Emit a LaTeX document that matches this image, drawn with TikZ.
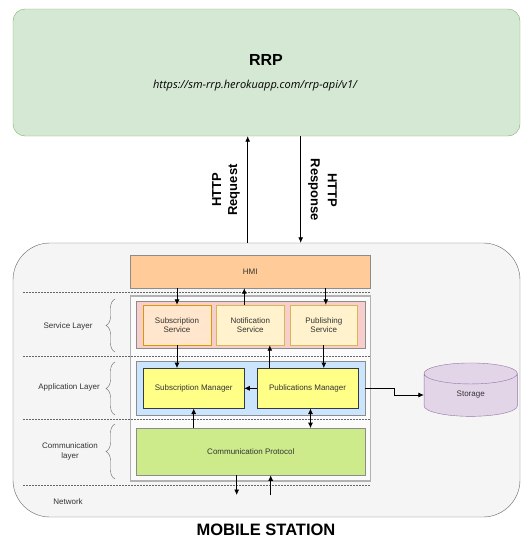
\documentclass[tikz,border=0pt]{standalone}
\usepackage{fontspec}
\setmainfont{Liberation Sans}
\newfontfamily\urlfont{Open Sans}
\usepackage{tikz}
\usetikzlibrary{positioning}
\usetikzlibrary{arrows.meta,shapes.geometric,decorations.pathreplacing}

\definecolor{rrpfill}{HTML}{D5E8D4}
\definecolor{rrpline}{HTML}{82B366}
\definecolor{msfill}{HTML}{F5F5F5}
\definecolor{msline}{HTML}{666666}
\definecolor{hmifill}{HTML}{FFCC99}
\definecolor{boxline}{HTML}{8C8C8C}
\definecolor{srvfill}{HTML}{F8CECC}
\definecolor{subfill}{HTML}{FFE6CC}
\definecolor{subline}{HTML}{D79B00}
\definecolor{pubfill}{HTML}{FFF2CC}
\definecolor{publine}{HTML}{D6B656}
\definecolor{appfill}{HTML}{CCE5FF}
\definecolor{mgrfill}{HTML}{FFFF88}
\definecolor{mgrline}{HTML}{36393D}
\definecolor{comfill}{HTML}{CDEB8B}
\definecolor{stofill}{HTML}{E1D5E7}
\definecolor{stoline}{HTML}{9673A6}
\definecolor{txt}{HTML}{333333}

\begin{document}
\begin{tikzpicture}[x=1pt,y=-1pt,
	box/.style={draw,inner sep=0pt,align=center,text=txt,font=\fontsize{8}{9.5}\selectfont},
	arr/.style={-{Latex[length=5.5pt,width=5pt]},line width=0.8pt},
	layerline/.style={draw=msline,dash pattern=on 1.5pt off 1.5pt,line width=0.6pt},
	layerbrace/.style={draw=msline,decorate,decoration={brace,amplitude=9pt}},
	layertext/.style={text=txt,align=center,font=\fontsize{8}{9.5}\selectfont}]
	\useasboundingbox (0,0) rectangle (521,541);
	% remote server
	\node (rrp) [draw=rrpline,fill=rrpfill,rounded corners=12pt,minimum width=507,minimum height=127] at (266.5,72.5) {};
	\node (rrptitle) at (266,60) {\fontsize{16}{18}\selectfont\bfseries RRP};
	\node (rrpurl) at (255,86) {\urlfont\itshape\fontsize{11}{12}\selectfont https://sm-rrp.herokuapp.com/rrp-api/v1/};
	% mobile station
	\node (ms) [draw=msline,fill=msfill,rounded corners=37pt,minimum width=507,minimum height=274] at (266.5,380) {};
	\node (mstitle) at (266,530) {\fontsize{16.5}{18}\selectfont\bfseries MOBILE STATION};
	\node (frame) [draw=black!30,fill=white!60!msfill,line width=1.2pt,minimum width=240,minimum height=185] at (250.3,388.5) {};
	\foreach \y in {292.5,356.5,419,485.5}
		\draw [layerline] (23,\y) -- (370,\y);
	\node (hmi) [box,draw=boxline,fill=hmifill,minimum width=240.7,minimum height=33] at (250.3,271.5) {HMI};
	% service layer
	\node (srv) [box,draw=boxline,fill=srvfill,minimum width=228.3,minimum height=46.3] at (250.8,324.8) {};
	\node (subsvc) [box,draw=subline,fill=subfill,minimum width=67.4,minimum height=40] at (177,325) {Subscription\\Service};
	\node (notsvc) [box,draw=publine,fill=pubfill,minimum width=67.4,minimum height=40] at (250.3,325) {Notification\\Service};
	\node (pubsvc) [box,draw=publine,fill=pubfill,minimum width=67.4,minimum height=40] at (323.8,325) {Publishing\\Service};
	% application layer
	\node (app) [box,draw=boxline,fill=appfill,minimum width=228.3,minimum height=53.3] at (250.8,388.3) {};
	\node (submgr) [box,draw=mgrline,fill=mgrfill,minimum width=100.7,minimum height=40] at (193.7,388.3) {Subscription Manager};
	\node (pubmgr) [box,draw=mgrline,fill=mgrfill,minimum width=100.4,minimum height=40] at (307.5,388.3) {Publications Manager};
	% communication layer
	\node (com) [box,draw=boxline,fill=comfill,minimum width=228.3,minimum height=46.7] at (250.8,451.7) {Communication Protocol};
	\node (sto) [box,draw=stoline,fill=stofill,cylinder,shape border rotate=90,aspect=0.75,minimum width=93.3,minimum height=53.4] at (470.7,395) {Storage};
	% layer names
	\draw [layerbrace] (115,352) -- (115,299);
	\draw [layerbrace] (115,415) -- (115,362);
	\draw [layerbrace] (115,479) -- (115,424);
	\node (srvname) [layertext] at (68,326) {Service Layer};
	\node (appname) [layertext] at (69,387.5) {Application Layer};
	\node (comname) [layertext] at (70,451.5) {Communication\\layer};
	\node (netname) [layertext] at (68,502) {Network};
	% http
	\coordinate (reqx) at (247.7,190);
	\coordinate (resx) at (300.7,190);
	\draw [arr] (reqx |- ms.north) -- (reqx |- rrp.south);
	\draw [arr] (resx |- rrp.south) -- (resx |- ms.north);
	\node (reqlbl) [rotate=90,align=center,font=\fontsize{13}{16}\selectfont\bfseries] at (226,190) {HTTP\\Request};
	\node (reslbl) [rotate=-90,align=center,font=\fontsize{13}{17}\selectfont\bfseries] at (322.5,190) {HTTP\\Response};
	% inner connectors
	\draw [arr] (subsvc.north |- hmi.south) -- (subsvc.north);
	\draw [arr] ([xshift=-6pt]notsvc.north) -- ([xshift=-6pt]notsvc.north |- hmi.south);
	\draw [arr] ([xshift=2pt]pubsvc.north |- hmi.south) -- ([xshift=2pt]pubsvc.north);
	\draw [arr] (subsvc.south) -- (subsvc.south |- submgr.north);
	\draw [arr] (pubsvc.south) -- (pubsvc.south |- pubmgr.north);
	\draw [arr] ([xshift=12.7pt]pubmgr.north west) -- ([xshift=12.7pt]pubmgr.north west |- notsvc.south);
	\draw [arr] (pubmgr.west) -- (submgr.east);
	\draw [arr] (submgr.south |- com.north) -- (submgr.south);
	\draw [{Latex[length=5.5pt,width=5pt]}-{Latex[length=5.5pt,width=5pt]},line width=0.8pt] ([xshift=3pt]pubmgr.south) -- ([xshift=3pt]pubmgr.south |- com.north);
	\draw [arr] (app.east |- pubmgr.east) -- ++(29,0) |- (sto.west);
	\coordinate (netout) at (236.7,495);
	\coordinate (netin) at (270.7,495);
	\draw [arr] (netout |- com.south) -- (netout);
	\draw [arr] (netin) -- (netin |- com.south);
\end{tikzpicture}
\end{document}
